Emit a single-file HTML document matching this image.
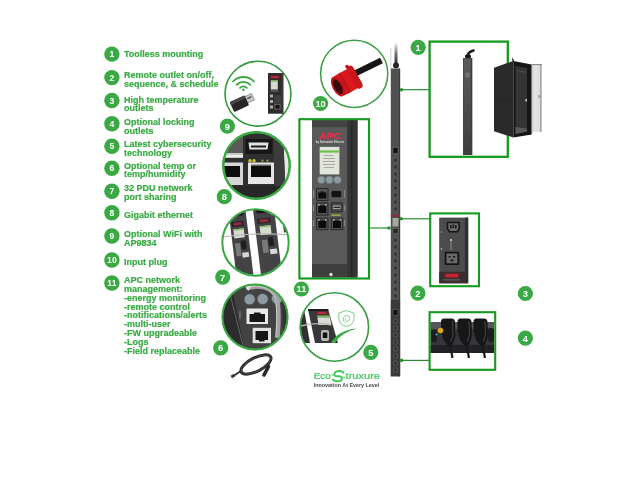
<!DOCTYPE html>
<html><head><meta charset="utf-8"><style>
html,body{margin:0;padding:0;background:#fff;width:640px;height:480px;overflow:hidden}
svg{display:block;will-change:transform}
text{font-family:"Liberation Sans",sans-serif;font-weight:bold}
.li{font-size:9px;fill:#36ab41;stroke:#36ab41;stroke-width:0.2px}
.num{font-size:8.6px;fill:#fff;text-anchor:middle}
.num2{font-size:9.3px;fill:#fff;text-anchor:middle}
</style></head><body>
<svg width="640" height="480" viewBox="0 0 640 480">
<rect width="640" height="480" fill="#fff"/>
<circle cx="111.9" cy="54.1" r="7.7" fill="#3aa843"/>
<text x="111.9" y="57.10" class="num">1</text>
<text x="124" y="57.30" class="li">Toolless mounting</text>
<circle cx="111.9" cy="77.6" r="7.7" fill="#3aa843"/>
<text x="111.9" y="80.60" class="num">2</text>
<text x="124" y="78.40" class="li">Remote outlet on/off,</text>
<text x="124" y="87.23" class="li">sequence, &amp; schedule</text>
<circle cx="111.9" cy="100.5" r="7.7" fill="#3aa843"/>
<text x="111.9" y="103.50" class="num">3</text>
<text x="124" y="102.50" class="li">High temperature</text>
<text x="124" y="111.33" class="li">outlets</text>
<circle cx="111.9" cy="123.8" r="7.7" fill="#3aa843"/>
<text x="111.9" y="126.80" class="num">4</text>
<text x="124" y="124.90" class="li">Optional locking</text>
<text x="124" y="133.73" class="li">outlets</text>
<circle cx="111.9" cy="146.2" r="7.7" fill="#3aa843"/>
<text x="111.9" y="149.20" class="num">5</text>
<text x="124" y="147.00" class="li">Latest cybersecurity</text>
<text x="124" y="155.83" class="li">technology</text>
<circle cx="111.9" cy="168.3" r="7.7" fill="#3aa843"/>
<text x="111.9" y="171.30" class="num">6</text>
<text x="124" y="168.50" class="li">Optional temp or</text>
<text x="124" y="177.33" class="li">temp/humidity</text>
<circle cx="111.9" cy="191.2" r="7.7" fill="#3aa843"/>
<text x="111.9" y="194.20" class="num">7</text>
<text x="124" y="190.80" class="li">32 PDU network</text>
<text x="124" y="199.63" class="li">port sharing</text>
<circle cx="111.9" cy="212.8" r="7.7" fill="#3aa843"/>
<text x="111.9" y="215.80" class="num">8</text>
<text x="124" y="218.00" class="li">Gigabit ethernet</text>
<circle cx="111.9" cy="236.0" r="7.7" fill="#3aa843"/>
<text x="111.9" y="239.00" class="num">9</text>
<text x="124" y="237.30" class="li">Optional WiFi with</text>
<text x="124" y="246.13" class="li">AP9834</text>
<circle cx="111.9" cy="260.0" r="7.7" fill="#3aa843"/>
<text x="111.9" y="263.00" class="num">10</text>
<text x="124" y="265.00" class="li">Input plug</text>
<circle cx="111.9" cy="283.0" r="7.7" fill="#3aa843"/>
<text x="111.9" y="286.00" class="num">11</text>
<text x="124" y="283.05" class="li">APC network</text>
<text x="124" y="291.88" class="li">management:</text>
<text x="124" y="300.71" class="li">-energy monitoring</text>
<text x="124" y="309.54" class="li">-remote control</text>
<text x="124" y="318.37" class="li">-notifications/alerts</text>
<text x="124" y="327.20" class="li">-multi-user</text>
<text x="124" y="336.03" class="li">-FW upgradeable</text>
<text x="124" y="344.86" class="li">-Logs</text>
<text x="124" y="353.69" class="li">-Field replaceable</text>
<defs>
  <clipPath id="c8"><circle cx="256.5" cy="165.5" r="33"/></clipPath>
  <clipPath id="c7"><circle cx="255.5" cy="242.5" r="32.6"/></clipPath>
  <clipPath id="c6"><circle cx="255" cy="317" r="32.2"/></clipPath>
  <clipPath id="c5"><circle cx="334.4" cy="327" r="33.5"/></clipPath>
  <linearGradient id="cabtop" x1="0" y1="0" x2="0" y2="1">
    <stop offset="0" stop-color="#fff"/><stop offset="0.5" stop-color="#777"/><stop offset="1" stop-color="#222"/>
  </linearGradient>
  <linearGradient id="door" x1="0" y1="0" x2="1" y2="0">
    <stop offset="0" stop-color="#c8c8c8"/><stop offset="0.3" stop-color="#e4e4e4"/><stop offset="1" stop-color="#d8d8d8"/>
  </linearGradient>
  <linearGradient id="pdu1" x1="0" y1="0" x2="0" y2="1">
    <stop offset="0" stop-color="#5c5c5c"/><stop offset="1" stop-color="#3e3e42"/>
  </linearGradient>
</defs>

<!-- ===== circle 9 : wifi ===== -->
<ellipse cx="258" cy="93.7" rx="33" ry="32.4" fill="#fff" stroke="#349a3c" stroke-width="1.6"/>
<g fill="none" stroke="#3aa843" stroke-width="1.8" stroke-linecap="round">
  <path d="M233 81.5 A14.5 14.5 0 0 1 254 81.5"/>
  <path d="M236.6 84.8 A9.8 9.8 0 0 1 250.4 84.8"/>
  <path d="M240 87.8 A5 5 0 0 1 246.8 87.8"/>
</g>
<circle cx="243.4" cy="89.8" r="1.3" fill="#3aa843"/>
<g transform="rotate(-25 241 103)">
  <rect x="246.5" y="98.8" width="8" height="7" fill="#c8c8c8" stroke="#6a6a6a" stroke-width="0.6"/>
  <rect x="248.5" y="101" width="4.5" height="1.4" fill="#555"/>
  <rect x="231" y="97.5" width="16.5" height="11" rx="1.5" fill="#262626"/>
  <rect x="231" y="97.5" width="16.5" height="3.2" rx="1" fill="#484848"/>
</g>
<rect x="268" y="73" width="15.3" height="40.7" fill="#2c2c2c"/>
<rect x="281.5" y="73" width="1.8" height="40.7" fill="#3a3a3a"/>
<rect x="269.5" y="75" width="11" height="4.5" fill="#4a2226"/>
<rect x="271" y="76" width="8" height="2.2" fill="#b02a3a"/>
<rect x="270.8" y="80.5" width="7" height="9" fill="#d6dad2"/>
<rect x="270.8" y="80.5" width="7" height="1.3" fill="#8bc070"/>
<rect x="270.5" y="90.5" width="8" height="1" fill="#777"/>
<g fill="#aaa">
<rect x="270" y="94.5" width="3" height="3"/><rect x="270" y="100" width="3" height="3"/><rect x="270" y="105.5" width="3" height="3"/>
</g>
<rect x="274" y="95" width="7" height="15" fill="#3e3e3e"/>
<rect x="275" y="104.5" width="5" height="4.5" fill="#151515" stroke="#888" stroke-width="0.5"/>

<!-- ===== circle 8 : ports ===== -->
<circle cx="256.5" cy="165.5" r="34.2" fill="#3aa843"/>
<g clip-path="url(#c8)">
  <rect x="220" y="130" width="75" height="75" fill="#2f2f2f"/>
  <polygon points="283,130 295,130 295,205 286,205" fill="#e8e8e8"/>
  <polygon points="273,130 283,130 286,205 275,205" fill="#3c3c3c"/>
  <rect x="221" y="136" width="22" height="22" fill="#5a5a5a"/>
  <rect x="221" y="153" width="22" height="5" fill="#c8c8c8"/>
  <rect x="221" y="155" width="22" height="2" fill="#eee"/>
  <rect x="245.5" y="139" width="27" height="15" fill="#161616"/>
  <polygon points="248.5,142.5 268.5,142.5 267.5,149.5 249.5,149.5" fill="#e2e2e2"/>
  <rect x="251" y="145.5" width="15" height="2" fill="#1a1a1a"/>
  <rect x="221" y="162.5" width="22" height="22.5" fill="#d6d6d6"/>
  <rect x="221" y="166" width="19" height="11" fill="#0e0e0e"/>
  <rect x="248" y="162.5" width="26" height="21.5" fill="#e6e6e6"/>
  <rect x="251" y="166" width="20" height="11" fill="#0e0e0e"/>
  <rect x="251" y="164.5" width="20" height="1.5" fill="#666"/>
  <circle cx="250" cy="160.8" r="1.7" fill="#c8cc30"/>
  <circle cx="254" cy="160.8" r="1.7" fill="#c8cc30"/>
  <circle cx="262.5" cy="160.8" r="1.2" fill="#8a8a50"/>
  <circle cx="267.5" cy="160.8" r="1.2" fill="#8a8a50"/>
  <rect x="221" y="186" width="70" height="20" fill="#272727"/>
</g>
<circle cx="256.5" cy="165.5" r="33.2" fill="none" stroke="#3aa843" stroke-width="2.4"/>

<!-- ===== circle 7 : two modules ===== -->
<circle cx="255.5" cy="242.5" r="33.2" fill="#fff"/>
<g clip-path="url(#c7)">
  <g transform="rotate(-7 255.5 242.5)">
    <rect x="232.5" y="200" width="17" height="90" fill="#434345"/>
    <rect x="257" y="200" width="21" height="90" fill="#434345"/>
    <rect x="285" y="200" width="12" height="36" fill="#3a3a3a"/>
    <rect x="235" y="207" width="12" height="7" rx="2" fill="#141414"/>
    <rect x="260" y="207" width="14" height="7" rx="2" fill="#141414"/>
    <rect x="234" y="219.5" width="12" height="5" fill="#2a2224"/><rect x="236" y="220.5" width="8" height="2.8" fill="#9a2a38"/>
    <rect x="260" y="219.5" width="13" height="5" fill="#2a2224"/><rect x="262" y="220.5" width="9" height="2.8" fill="#9a2a38"/>
    <rect x="235" y="227" width="10.5" height="9" fill="#d4dcd0"/>
    <rect x="261.5" y="227" width="11" height="9" fill="#d4dcd0"/>
    <rect x="235" y="227" width="10.5" height="1.5" fill="#8bc070"/>
    <rect x="261.5" y="227" width="11" height="1.5" fill="#8bc070"/>
    <rect x="235" y="241" width="5" height="13" fill="#7a7a7a"/>
    <rect x="241" y="239" width="5" height="9" fill="#1e1e1e"/>
    <rect x="241" y="251" width="6.5" height="5" fill="#d8d8d8"/>
    <rect x="262" y="241" width="5.5" height="13" fill="#7a7a7a"/>
    <rect x="268.5" y="239" width="5" height="9" fill="#1e1e1e"/>
    <rect x="269" y="251" width="7" height="5" fill="#d8d8d8"/>
  </g>
  <path d="M222 237 Q255 232 290 235" stroke="#b8b8b8" stroke-width="1.2" fill="none"/>
</g>
<circle cx="255.5" cy="242.5" r="33.2" fill="none" stroke="#3aa843" stroke-width="2"/>

<!-- ===== circle 6 : cable into port ===== -->
<circle cx="255" cy="317" r="33.2" fill="#3aa843"/>
<g clip-path="url(#c6)">
  <rect x="220" y="282" width="72" height="70" fill="#424242"/>
  <polygon points="220,282 231,282 245,352 220,352" fill="#2c2c2c"/>
  <line x1="229" y1="290" x2="244" y2="350" stroke="#6a6a6a" stroke-width="0.9"/>
  <polygon points="282,300 292,300 292,352 284,352" fill="#333"/>
  <g fill="#8d9aa3" stroke="#4a525a" stroke-width="1">
    <circle cx="249.6" cy="299.3" r="5.6"/>
    <circle cx="262.7" cy="299" r="5.6"/>
    <circle cx="277" cy="298.5" r="5.6"/>
  </g>
  <rect x="246.5" y="308.5" width="21.5" height="15.5" fill="#e8e8e8"/>
  <rect x="249.5" y="314" width="15.5" height="8" fill="#161616"/>
  <rect x="254" y="312.5" width="6.5" height="2" fill="#161616"/>
  <rect x="252.7" y="327.8" width="18.3" height="15.4" fill="#e2e2e2"/>
  <rect x="255.5" y="331" width="12.5" height="9" fill="#161616"/>
  <rect x="259" y="339.5" width="5.5" height="2" fill="#161616"/>
  <rect x="239.5" y="311" width="1" height="8" fill="#888"/>
  <circle cx="277.5" cy="306" r="1.2" fill="#9acb3a"/>
  <path d="M246 288 Q268 283 276 296 Q280 305 277.5 338" stroke="#a2a2a2" stroke-width="4.5" fill="none"/>
  <path d="M247 287 Q267 283.5 274.5 295.5 Q278 304 276 337" stroke="#c8c8c8" stroke-width="1" fill="none"/>
  <polygon points="244,285 252,285 248.5,291" fill="#e0e0e0"/>
</g>
<circle cx="255" cy="317" r="32.6" fill="none" stroke="#3aa843" stroke-width="2"/>

<!-- cable coil -->
<g fill="none" stroke="#2c2c2c">
  <ellipse cx="256" cy="364.5" rx="16.5" ry="6.8" transform="rotate(-27 256 364.5)" stroke-width="3"/>
  <ellipse cx="256" cy="364.5" rx="16.5" ry="6.8" transform="rotate(-27 256 364.5)" stroke-width="0.6" stroke="#555"/>
  <path d="M241 371 L234 375.5" stroke-width="1.8"/>
  <path d="M268.5 366.5 L264 375" stroke-width="3.6" stroke="#262626" stroke-linecap="round"/>
</g>
<rect x="231" y="374.5" width="4" height="3" fill="#3a3a3a" transform="rotate(-30 233 376)"/>

<!-- ===== circle 10 : red plug ===== -->
<circle cx="354.2" cy="73.8" r="33.6" fill="#fff" stroke="#3c9e44" stroke-width="1.5"/>
<path d="M356 73 L381.5 60.5" stroke="#161616" stroke-width="6.2"/>
<g transform="rotate(-29 338 86.5)">
  <rect x="338" y="75.5" width="22.5" height="22" rx="3" fill="#d9191e"/>
  <rect x="354" y="74" width="6.5" height="25" rx="3" fill="#c9161b"/>
  <rect x="344" y="75.5" width="3" height="22" fill="#c3141a"/>
  <circle cx="355.5" cy="73.5" r="1.8" fill="#c01418"/>
  <ellipse cx="338" cy="86.5" rx="5.5" ry="11" fill="#c41419"/>
  <ellipse cx="337.8" cy="86.5" rx="3.6" ry="8.2" fill="#3a0a0c"/>
</g>

<!-- ===== box 11 ===== -->
<rect x="312" y="120" width="45.5" height="157.5" fill="#595959"/>
<rect x="312" y="120" width="36" height="7.2" fill="#444"/>
<rect x="347.2" y="120" width="10.3" height="157.5" fill="#353535"/>
<line x1="351.9" y1="120" x2="351.9" y2="277.5" stroke="#1a1a1a" stroke-width="0.8"/>
<rect x="312" y="264" width="35.2" height="13.5" fill="#3e3e3e"/>
<circle cx="331" cy="274.5" r="1.7" fill="#ddd"/>
<text x="330" y="138.6" font-size="9.3" font-style="italic" fill="#e0304f" stroke="#e0304f" stroke-width="0.45" text-anchor="middle" style="font-weight:bold" transform="translate(330 0) scale(1.12 1) translate(-330 0)">APC</text>
<text x="330" y="142.8" font-size="2.8" fill="#ddd" text-anchor="middle" style="font-weight:bold">by Schneider Electric</text>
<rect x="319.7" y="146.9" width="19.7" height="27.5" fill="#e2e6da"/>
<rect x="319.7" y="150.4" width="19.7" height="2.2" fill="#6fbf4e"/>
<g fill="#9a9a9a">
  <rect x="324" y="155" width="9" height="0.8"/><rect x="323" y="158" width="12" height="0.8"/>
  <rect x="323" y="161" width="12" height="0.8"/><rect x="323" y="164" width="12" height="0.8"/>
  <rect x="324" y="167" width="10" height="0.8"/>
</g>
<g fill="#8e9ba2" stroke="#5a6066" stroke-width="0.6">
<circle cx="321.3" cy="179.8" r="3.9"/>
<circle cx="329.4" cy="179.8" r="3.9"/>
<circle cx="337.5" cy="179.8" r="3.9"/>
</g>
<g stroke="#1e1e1e" stroke-width="0.8">
<rect x="316.6" y="188.4" width="11.4" height="12" fill="#555"/>
<rect x="316.6" y="202.9" width="11.4" height="12.2" fill="#555"/>
<rect x="316.6" y="218.1" width="11.4" height="11.6" fill="#555"/>
<rect x="331.2" y="218.1" width="11.6" height="11.6" fill="#555"/>
<rect x="331.2" y="202.9" width="11" height="9" fill="#4a4a4a"/>
</g>
<rect x="318.3" y="192.5" width="8" height="6" fill="#0c0c0c"/>
<rect x="320.5" y="191.5" width="3.6" height="1.2" fill="#0c0c0c"/>
<rect x="318.3" y="205.5" width="8" height="7.5" fill="#0c0c0c"/>
<rect x="318.3" y="220.5" width="8" height="7.5" fill="#0c0c0c"/>
<rect x="332.9" y="220.5" width="8" height="7.5" fill="#0c0c0c"/>
<g fill="#cfcfcf">
<rect x="318.2" y="204.2" width="1.5" height="1.3"/><rect x="325" y="204.2" width="1.5" height="1.3"/>
<rect x="318.2" y="219.3" width="1.5" height="1.3"/><rect x="325" y="219.3" width="1.5" height="1.3"/>
<rect x="333" y="219.3" width="1.5" height="1.3"/><rect x="339.7" y="219.3" width="1.5" height="1.3"/>
</g>
<rect x="331" y="190.4" width="10.7" height="7.3" rx="1.8" fill="#141414" stroke="#6a6a6a" stroke-width="0.7"/>
<rect x="333" y="205.5" width="7.5" height="3.5" fill="#a0a0a0"/>
<rect x="333.5" y="206.8" width="6.5" height="1.2" fill="#222"/>
<rect x="331.5" y="214.4" width="9" height="1.6" fill="#9aab3a"/>
<g fill="#999">
<rect x="313.2" y="190" width="0.8" height="8"/><rect x="313.2" y="205" width="0.8" height="6"/><rect x="313.2" y="220" width="0.8" height="6"/>
<rect x="344.3" y="190" width="0.8" height="8"/><rect x="344.3" y="205" width="0.8" height="6"/><rect x="344.3" y="220" width="0.8" height="6"/>
</g>
<rect x="299.4" y="119.2" width="69.6" height="159.3" fill="none" stroke="#149a1d" stroke-width="2.1"/>
<line x1="369" y1="228" x2="389" y2="228" stroke="#2a8c2e" stroke-width="1.2"/>
<circle cx="389" cy="228" r="1.8" fill="#2a922e"/>

<!-- ===== circle 5 : cybersecurity ===== -->
<circle cx="334.4" cy="327" r="34.2" fill="#fff" stroke="#389c40" stroke-width="1.6"/>
<g clip-path="url(#c5)">
  <polygon points="298,309 304,309 310,343 300,343" fill="#303030"/>
  <polygon points="308,309 328,309 338,343 315,343" fill="#383838"/>
  <polygon points="308,309 328,309 328.6,311 308.4,311" fill="#1a1a1a"/>
  <polygon points="315.5,311.5 328,311.5 328.8,314.5 316.2,314.5" fill="#6a2830"/>
  <rect x="318" y="312.2" width="8" height="1.6" fill="#c83244"/>
  <polygon points="317,315.5 329.5,315.5 330,317.5 317.4,317.5" fill="#7cc060"/>
  <polygon points="317.4,317.5 330,317.5 331.5,325 318.5,325" fill="#d8dcd4"/>
  <path d="M301 326 Q316 322 331 325" stroke="#b5b5b5" stroke-width="1.3" fill="none"/>
  <rect x="321" y="330" width="8" height="11" rx="2" fill="#b8b8b8"/>
  <rect x="322.8" y="332.5" width="4.5" height="5.5" fill="#111"/>
  <path d="M331 343 Q338 330 357 328.5 Q340 333 335 343 Z" fill="#3aa843"/>
</g>
<g fill="none" stroke="#6cc67a" stroke-width="0.9">
  <path d="M346.4 310.5 L354 313.2 L354 318.5 Q354 324.5 346.4 326.5 Q338.8 324.5 338.8 318.5 L338.8 313.2 Z"/>
  <path d="M345 322.5 C342 320 343 316 346.5 315.5 C350 315.5 350.5 319.5 348 321 C346 322 344.5 320 346 318.5"/>
</g>

<!-- EcoStruxure -->
<text x="313.7" y="379.2" font-size="8.9" fill="#3dc958" textLength="16.9" lengthAdjust="spacingAndGlyphs" stroke="#3dc958" stroke-width="0.2" style="font-weight:normal">Eco</text>
<g fill="none" stroke="#3dc958" stroke-width="1.9" stroke-linecap="butt">
  <path d="M343.8 373.2 Q342.5 370.8 338.8 371 Q334.6 371.3 334.3 374.2 Q334.2 376.3 337.5 376.3 L338.8 376.3 Q342.2 376.4 342 378.6 Q341.6 381.3 337.4 381.3 Q333.6 381.3 332.4 378.8"/>
  <path d="M331.2 375 L333.5 375 M342.8 377.2 L345 377.2" stroke-width="1.1"/>
</g>
<text x="345.6" y="379.2" font-size="8.6" fill="#3dc958" textLength="34.4" lengthAdjust="spacingAndGlyphs" stroke="#3dc958" stroke-width="0.2" style="font-weight:normal">truxure</text>
<text x="313.75" y="386.7" font-size="5.3" fill="#454545" textLength="65.6" lengthAdjust="spacingAndGlyphs" style="font-weight:bold">Innovation At Every Level</text>

<!-- ===== PDU strip ===== -->
<rect x="394.5" y="42" width="3" height="23" fill="url(#cabtop)"/>
<line x1="390.8" y1="48" x2="390.8" y2="70" stroke="#b0b0b0" stroke-width="0.6"/>
<ellipse cx="396" cy="65.5" rx="3" ry="3" fill="#262626"/>
<rect x="390.8" y="68.5" width="9.3" height="307.8" fill="#505050"/>
<rect x="399" y="68.5" width="1.1" height="307.8" fill="#3c3c3c"/>
<rect x="390.8" y="300" width="9.3" height="76.3" fill="#3a3a3a"/>
<rect x="393" y="147.5" width="5" height="6" fill="#141414" stroke="#777" stroke-width="0.5"/>
<g fill="#363636" stroke="#6e6e6e" stroke-width="0.55"><rect x="393.4" y="158" width="4.2" height="4" rx="0.8"/><rect x="393.4" y="165" width="4.2" height="4" rx="0.8"/><rect x="393.4" y="172" width="4.2" height="4" rx="0.8"/><rect x="393.4" y="179" width="4.2" height="4" rx="0.8"/><rect x="393.4" y="186" width="4.2" height="4" rx="0.8"/><rect x="393.4" y="193" width="4.2" height="4" rx="0.8"/><rect x="393.4" y="200" width="4.2" height="4" rx="0.8"/><rect x="393.4" y="207" width="4.2" height="4" rx="0.8"/><rect x="393.4" y="238" width="4.2" height="4" rx="0.8"/><rect x="393.4" y="245" width="4.2" height="4" rx="0.8"/><rect x="393.4" y="252" width="4.2" height="4" rx="0.8"/><rect x="393.4" y="259" width="4.2" height="4" rx="0.8"/><rect x="393.4" y="266" width="4.2" height="4" rx="0.8"/><rect x="393.4" y="273" width="4.2" height="4" rx="0.8"/><rect x="393.4" y="280" width="4.2" height="4" rx="0.8"/><rect x="393.4" y="287" width="4.2" height="4" rx="0.8"/><rect x="393.4" y="294" width="4.2" height="4" rx="0.8"/><rect x="393.4" y="319" width="4.2" height="4" rx="0.8"/><rect x="393.4" y="326" width="4.2" height="4" rx="0.8"/><rect x="393.4" y="333" width="4.2" height="4" rx="0.8"/><rect x="393.4" y="340" width="4.2" height="4" rx="0.8"/><rect x="393.4" y="347" width="4.2" height="4" rx="0.8"/><rect x="393.4" y="354" width="4.2" height="4" rx="0.8"/><rect x="393.4" y="361" width="4.2" height="4" rx="0.8"/><rect x="393.4" y="368" width="4.2" height="4" rx="0.8"/></g>
<rect x="390.8" y="214.8" width="9.3" height="2" fill="#8a3038"/>
<rect x="392.5" y="218" width="6" height="8.5" fill="#a4aaa2"/>
<rect x="393" y="228.5" width="5" height="5" fill="#262626" stroke="#777" stroke-width="0.5"/>
<rect x="393" y="309.5" width="5" height="6" fill="#141414" stroke="#777" stroke-width="0.5"/>

<!-- ===== box 1 ===== -->
<line x1="400" y1="89.7" x2="429" y2="89.7" stroke="#2a8c2e" stroke-width="1.2"/>
<circle cx="401.5" cy="89.7" r="1.8" fill="#2a922e"/>
<rect x="429.6" y="41.6" width="78.2" height="115.2" fill="none" stroke="#149a1d" stroke-width="2.3"/>
<rect x="463" y="58" width="9.2" height="97" fill="url(#pdu1)"/>
<rect x="470.8" y="58" width="1.4" height="97" fill="#3e3e3e"/>
<rect x="463" y="58" width="0.8" height="97" fill="#444"/>
<path d="M467.5 56 Q468 52 473.5 50.5" stroke="#1a1a1a" stroke-width="2.6" fill="none" stroke-linecap="round"/>
<rect x="465" y="54.5" width="6" height="3.8" rx="1.5" fill="#1a1a1a"/>
<circle cx="467.5" cy="75" r="2" fill="#6a6a6a" stroke="#8a8a8a" stroke-width="0.7"/>
<!-- rack -->
<polygon points="512,57 514.5,61.5 512.5,62" fill="#1a1a1a"/>
<polygon points="494,67.8 513.3,60.9 513.3,137.5 494,131.2" fill="#2a2a2a"/>
<line x1="494" y1="99.5" x2="513.3" y2="99.5" stroke="#222" stroke-width="0.6"/>
<polygon points="513.3,60.9 531.7,64.5 531.7,134.5 513.3,137.5" fill="#161616"/>
<polygon points="515.5,66 527,68 527,131.5 515.5,134" fill="#343434"/>
<polygon points="515.5,127 527,128.5 527,131.5 515.5,134" fill="#5a5a5a"/>
<polygon points="517,70 526,71.5 526,73 517,71.5" fill="#444"/>
<rect x="525.5" y="99" width="1.5" height="2.5" fill="#ccc"/>
<polygon points="531.7,64.2 541.5,64.2 541.5,132 531.7,132" fill="url(#door)"/>
<rect x="540.2" y="64.2" width="1.3" height="67.8" fill="#9a9a9a"/>
<rect x="531.7" y="64.2" width="9.8" height="0.9" fill="#777"/>
<rect x="538.5" y="95" width="1" height="3" fill="#777"/>

<!-- ===== box 2 ===== -->
<line x1="400" y1="218.8" x2="430" y2="218.8" stroke="#2a8c2e" stroke-width="1.2"/>
<circle cx="401.2" cy="218.8" r="1.8" fill="#2a922e"/>
<rect x="439.2" y="217.6" width="29" height="65.7" fill="#4c4c4c"/>
<rect x="465" y="217.6" width="3.2" height="65.7" fill="#303030"/>
<path d="M446.7 223 Q446.7 221.7 448 221.7 L458.7 221.7 Q460 221.7 460 223 L460 229 L457.5 232.5 L449.2 232.5 L446.7 229 Z" fill="#141414"/>
<path d="M448.3 223.3 L458.4 223.3 L458.4 228.6 L456.8 231 L449.9 231 L448.3 228.6 Z" fill="#6a6a6a"/>
<g fill="#1a1a1a"><rect x="450" y="225" width="1.6" height="3.5"/><rect x="452.5" y="224.5" width="1.6" height="3.5"/><rect x="455" y="225" width="1.6" height="3.5"/></g>
<path d="M444.7 253 Q444.7 251.7 446 251.7 L458 251.7 Q459.2 251.7 459.2 253 L459.2 265 L444.7 265 Z" fill="#141414"/>
<path d="M446.5 253.5 L457.4 253.5 L457.4 263.3 L446.5 263.3 Z" fill="#6a6a6a"/>
<g fill="#1a1a1a"><rect x="448.5" y="256" width="2.2" height="1.5"/><rect x="453" y="256" width="2.2" height="1.5"/><rect x="450.5" y="259.5" width="3" height="1.8"/></g>
<circle cx="451" cy="240" r="1" fill="#ddd"/>
<line x1="451" y1="240" x2="451" y2="250" stroke="#bbb" stroke-width="0.6"/>
<circle cx="441.5" cy="232" r="0.7" fill="#aaa"/><circle cx="441.5" cy="249" r="0.8" fill="#ccc"/>
<rect x="439.2" y="271.7" width="25.8" height="11.6" fill="#3a2e30"/>
<rect x="445.5" y="273.8" width="13" height="3.6" fill="#cc2233"/>
<rect x="443" y="279.5" width="17" height="0.8" fill="#777"/>
<rect x="430.2" y="213.4" width="48.8" height="72.8" fill="none" stroke="#149a1d" stroke-width="2.1"/>

<!-- ===== box 4 ===== -->
<line x1="400" y1="360.4" x2="429" y2="360.4" stroke="#2a8c2e" stroke-width="1.2"/>
<circle cx="401.5" cy="360.4" r="1.8" fill="#2a922e"/>
<rect x="430.5" y="322" width="63.5" height="31" fill="#35353b"/>
<rect x="430.5" y="322" width="63.5" height="7" fill="#55555b"/>
<rect x="430.5" y="345" width="63.5" height="8" fill="#222226"/>
<rect x="431" y="330" width="6" height="12" rx="2" fill="#1e1e22"/>
<rect x="488" y="328" width="6" height="14" rx="2" fill="#1e1e22"/>
<g fill="#171717"><path d="M441 322 Q441 318.5 444 318.5 L451.5 318.5 Q455 318.5 455 322.5 L455.5 336 L452 346 L448 346 L443 339 L441 331 Z"/><path d="M457.5 322 Q457.5 318.5 460.5 318.5 L468.0 318.5 Q471.5 318.5 471.5 322.5 L472.0 336 L468.5 346 L464.5 346 L459.5 339 L457.5 331 Z"/><path d="M473.5 322 Q473.5 318.5 476.5 318.5 L484.0 318.5 Q487.5 318.5 487.5 322.5 L488.0 336 L484.5 346 L480.5 346 L475.5 339 L473.5 331 Z"/></g>
<g fill="none" stroke="#4a4a4a" stroke-width="0.9"><path d="M452.5 321 L453 335 L450.5 342"/><path d="M469.0 321 L469.5 335 L467.0 342"/><path d="M485.0 321 L485.5 335 L483.0 342"/></g>
<g stroke="#1a1a1a" stroke-width="2.2"><line x1="450" y1="345" x2="452.5" y2="358"/><line x1="466.5" y1="345" x2="469.0" y2="358"/><line x1="482.5" y1="345" x2="485.0" y2="358"/></g>
<circle cx="440.5" cy="330.5" r="2.8" fill="#e0a818"/>
<circle cx="436.5" cy="334.5" r="1" fill="#40c080"/>
<rect x="429.6" y="312.2" width="65.6" height="57.6" fill="none" stroke="#149a1d" stroke-width="2.1"/>

<!-- labels -->
<g>
<circle cx="227.4" cy="126.1" r="7.6" fill="#3aa843"/><text x="227.4" y="129.55" class="num2">9</text>
<circle cx="224.3" cy="196.7" r="7.6" fill="#3aa843"/><text x="224.3" y="200.15" class="num2">8</text>
<circle cx="222.7" cy="277.1" r="7.6" fill="#3aa843"/><text x="222.7" y="280.55" class="num2">7</text>
<circle cx="220.7" cy="347.9" r="7.6" fill="#3aa843"/><text x="220.7" y="351.35" class="num2">6</text>
<circle cx="320.6" cy="103.5" r="7.6" fill="#3aa843"/><text x="320.6" y="106.95" class="num2">10</text>
<circle cx="301.4" cy="289" r="7.6" fill="#3aa843"/><text x="301.4" y="292.45" class="num2">11</text>
<circle cx="370.8" cy="352.4" r="7.6" fill="#3aa843"/><text x="370.8" y="355.85" class="num2">5</text>
<circle cx="418.2" cy="47.3" r="7.6" fill="#3aa843"/><text x="418.2" y="50.75" class="num2">1</text>
<circle cx="417.9" cy="293.1" r="7.6" fill="#3aa843"/><text x="417.9" y="296.55" class="num2">2</text>
<circle cx="525.4" cy="293.5" r="7.6" fill="#3aa843"/><text x="525.4" y="296.95" class="num2">3</text>
<circle cx="525.4" cy="338.1" r="7.6" fill="#3aa843"/><text x="525.4" y="341.55" class="num2">4</text>

</g>

</svg>
</body></html>
